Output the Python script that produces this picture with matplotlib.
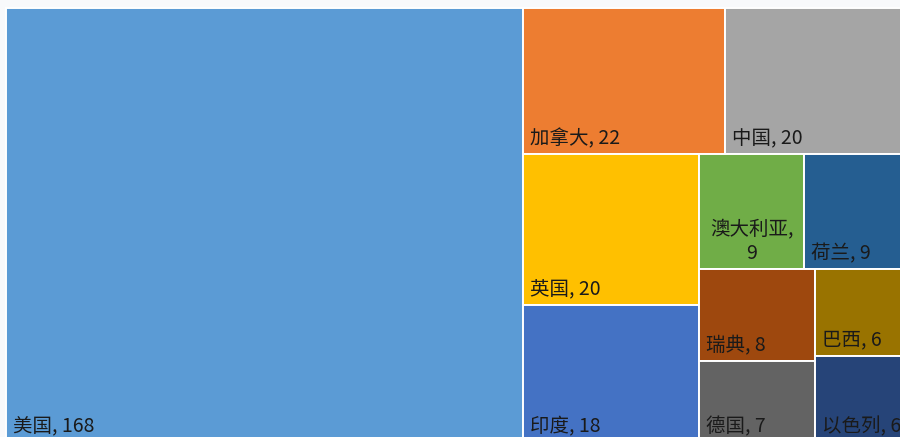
import matplotlib
matplotlib.use("Agg")
import matplotlib.pyplot as plt
from matplotlib.patches import Rectangle

plt.rcParams['font.family'] = ['Noto Sans CJK SC', 'DejaVu Sans']

# ---- data ----
countries = ["美国", "加拿大", "中国", "英国", "印度", "澳大利亚", "荷兰", "瑞典", "德国", "巴西", "以色列"]
values = [168, 22, 20, 20, 18, 9, 9, 8, 7, 6, 6]
colors = ["#5B9BD5", "#ED7D31", "#A5A5A5", "#FFC000", "#4472C4", "#70AD47",
          "#255E91", "#9E480E", "#636363", "#997300", "#264478"]


def worst(row, side):
    s = sum(row)
    return max(max(side * side * r / (s * s), (s * s) / (side * side * r)) for r in row)


def squarify(vals, x, y, w, h):
    total = sum(vals)
    sizes = [v * w * h / total for v in vals]
    rects = []
    while sizes:
        side = min(w, h)
        row = [sizes[0]]
        i = 1
        while i < len(sizes) and worst(row + [sizes[i]], side) <= worst(row, side):
            row.append(sizes[i])
            i += 1
        s = sum(row)
        if w >= h:
            cw = s / h
            yy = y
            for a in row:
                rh = a / cw
                rects.append((x, yy, cw, rh))
                yy += rh
            x += cw
            w -= cw
        else:
            rh = s / w
            xx = x
            for a in row:
                rw = a / rh
                rects.append((xx, y, rw, rh))
                xx += rw
            y += rh
            h -= rh
        sizes = sizes[i:]
    return rects


W, H = 900, 437
fig = plt.figure(figsize=(W / 100, H / 100), dpi=100)
fig.patch.set_facecolor("#f8f9fb")
ax = fig.add_axes([0, 0, 1, 1])
ax.set_xlim(0, W)
ax.set_ylim(H, 0)
ax.axis("off")

rects = squarify(values, 6, 8, 902, 434)
fig.canvas.draw()
renderer = fig.canvas.get_renderer()

FS = 14
for (x, y, w, h), name, val, c in zip(rects, countries, values, colors):
    ax.add_patch(Rectangle((x, y), w, h, facecolor=c, edgecolor="white", linewidth=1.4))
    label = f"{name}, {val}"
    t = ax.text(x + 7, y + h - 10, label, fontsize=FS, color="#1a1a1a",
                ha="left", va="baseline")
    bb = t.get_window_extent(renderer)
    if bb.width > w - 10:
        t.remove()
        ax.text(x + w / 2, y + h - 10, f"{name},\n{val}", fontsize=FS, color="#1a1a1a",
                ha="center", va="baseline", multialignment="center", linespacing=1.2)

fig.savefig("out.png", dpi=100, facecolor=fig.get_facecolor())
